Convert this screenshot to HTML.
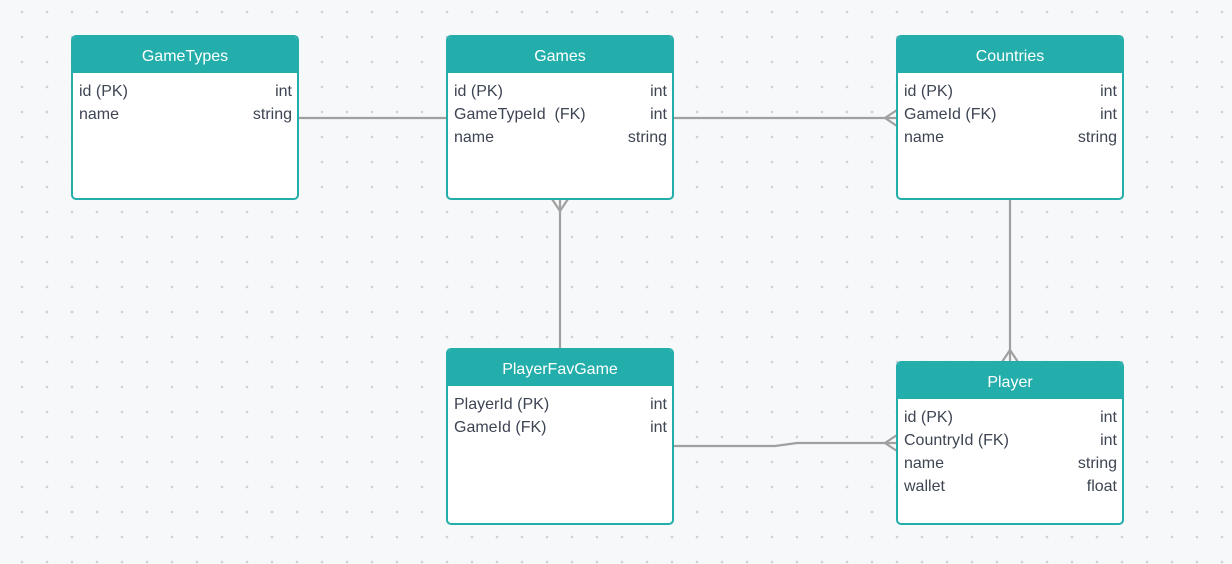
<!DOCTYPE html>
<html><head><style>
body{margin:0;width:1232px;height:564px;overflow:hidden;background:#f7f8fa;
background-image:radial-gradient(circle,#cfd3d8 1.2px,transparent 1.5px);background-size:25px 25px;background-position:9.5px -0.5px;
font-family:"Liberation Sans",sans-serif;}
.t{position:absolute;box-sizing:border-box;border:2px solid #24aeab;border-radius:5px;background:#fff;overflow:hidden}
.h{background:#24aeab;color:#fff;text-align:center;font-size:16px;height:36px;line-height:39px}
.r{display:flex;justify-content:space-between;padding:0 5px 0 6px;font-size:16px;color:#3d4452;height:23px;line-height:23px}
.b{padding-top:7px}
svg{position:absolute;left:0;top:0}
</style></head><body>
<svg width="1232" height="564" fill="none" stroke="#a0a0a0" stroke-width="2.2">
<line x1="298" y1="118" x2="447" y2="118"/>
<line x1="673" y1="118" x2="897" y2="118"/>
<polyline points="897,110 885,118 897,126"/>
<line x1="560" y1="199" x2="560" y2="349"/>
<polyline points="552,199 560,211 568,199"/>
<line x1="1010" y1="199" x2="1010" y2="362"/>
<polyline points="1002,362 1010,350 1018,362"/>
<polyline points="673,446 775,446 797,443 897,443"/>
<polyline points="897,435 885,443 897,451"/>
</svg>
<div class="t" style="left:71px;top:35px;width:228px;height:165px"><div class="h">GameTypes</div><div class="b"><div class="r"><span>id (PK)</span><span>int</span></div><div class="r"><span>name</span><span>string</span></div></div></div>
<div class="t" style="left:446px;top:35px;width:228px;height:165px"><div class="h">Games</div><div class="b"><div class="r"><span>id (PK)</span><span>int</span></div><div class="r"><span>GameTypeId&nbsp; (FK)</span><span>int</span></div><div class="r"><span>name</span><span>string</span></div></div></div>
<div class="t" style="left:896px;top:35px;width:228px;height:165px"><div class="h">Countries</div><div class="b"><div class="r"><span>id (PK)</span><span>int</span></div><div class="r"><span>GameId (FK)</span><span>int</span></div><div class="r"><span>name</span><span>string</span></div></div></div>
<div class="t" style="left:446px;top:348px;width:228px;height:177px"><div class="h">PlayerFavGame</div><div class="b"><div class="r"><span>PlayerId (PK)</span><span>int</span></div><div class="r"><span>GameId (FK)</span><span>int</span></div></div></div>
<div class="t" style="left:896px;top:361px;width:228px;height:164px"><div class="h">Player</div><div class="b"><div class="r"><span>id (PK)</span><span>int</span></div><div class="r"><span>CountryId (FK)</span><span>int</span></div><div class="r"><span>name</span><span>string</span></div><div class="r"><span>wallet</span><span>float</span></div></div></div>
</body></html>
